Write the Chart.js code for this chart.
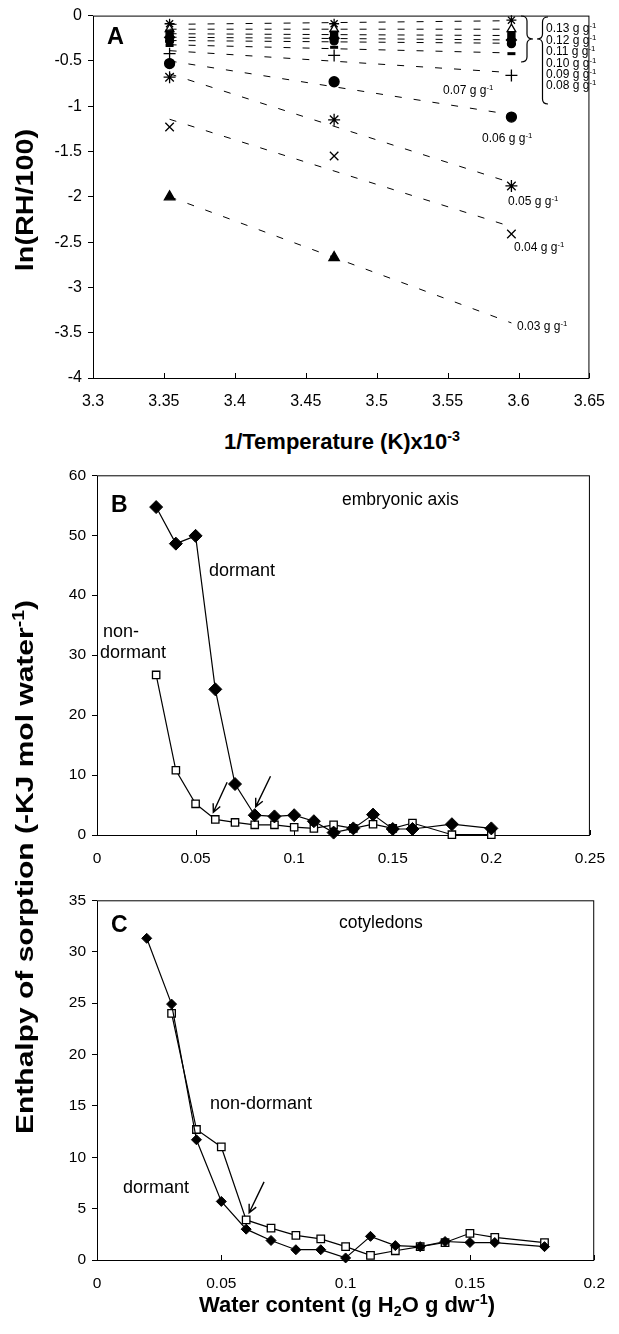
<!DOCTYPE html>
<html>
<head>
<meta charset="utf-8">
<title>Enthalpy of sorption</title>
<script src="https://cdn.jsdelivr.net/npm/chart.js@4.4.1/dist/chart.umd.min.js"></script>
<style>
  body { margin: 0; background: #fff; font-family: "Liberation Sans", Arial, sans-serif; }
  #page { position: relative; width: 619px; height: 1334px; overflow: hidden; }
  canvas { position: absolute; left: 0; }
  .t { position: absolute; white-space: nowrap; color: #000; line-height: 1; }
  .b { font-weight: bold; }
  sup { font-size: 0.65em; vertical-align: 0.55em; line-height: 0; }
  sub { font-size: 0.65em; vertical-align: -0.3em; line-height: 0; }
</style>
</head>
<body>
<div id="page">
  <canvas id="chartA" width="619" height="420" style="top:0"></canvas>
  <canvas id="chartB" width="619" height="420" style="top:460px"></canvas>
  <canvas id="chartC" width="619" height="420" style="top:885px"></canvas>
</div>
<script>
// ---- panel A : ln(RH/100) against 1/T, one series per water content ----
const invTemp = [3.354, 3.47, 3.595];
const waterA = ['0.03', '0.04', '0.05', '0.06', '0.07', '0.08', '0.09', '0.10', '0.11', '0.12', '0.13'];
const lnRH003 = [-2.00, -2.67, null];
const lnRH004 = [-1.23, -1.55, -2.41];
const lnRH005 = [-0.68, -1.15, -1.88];
const lnRH006 = [-0.53, -0.73, -1.12];
const lnRH007 = [-0.42, -0.44, -0.66];
const lnRH008 = [-0.33, -0.35, -0.42];
const lnRH009 = [-0.28, -0.28, -0.31];
const lnRH010 = [-0.24, -0.25, -0.27];
const lnRH011 = [-0.20, -0.21, -0.22];
const lnRH012 = [-0.15, -0.15, -0.15];
const lnRH013 = [-0.09, -0.09, -0.05];
const aXTicks = [3.3, 3.35, 3.4, 3.45, 3.5, 3.55, 3.6, 3.65];
const aYTicks = [0, -0.5, -1, -1.5, -2, -2.5, -3, -3.5, -4];

// ---- panel B : embryonic axis ----
const waterB = [0.03, 0.04, 0.05, 0.06, 0.07, 0.08, 0.09, 0.10, 0.11, 0.12, 0.13, 0.14, 0.15, 0.16, 0.18, 0.20];
const dormantB = [54.7, 48.6, 49.9, 24.3, 8.5, 3.3, 3.1, 3.3, 2.3, 0.4, 1.1, 3.4, 1.0, 1.0, 1.8, 1.1];
const nonDormantB = [26.7, 10.8, 5.2, 2.6, 2.1, 1.7, 1.7, 1.3, 1.1, 1.7, 1.1, 1.8, 1.1, 2.0, 0.05, 0.05];
const bXTicks = [0, 0.05, 0.1, 0.15, 0.2, 0.25];
const bYTicks = [0, 10, 20, 30, 40, 50, 60];

// ---- panel C : cotyledons ----
const waterCDormant = [0.02, 0.03, 0.04, 0.05, 0.06, 0.07, 0.08, 0.09, 0.10, 0.11, 0.12, 0.13, 0.14, 0.15, 0.16, 0.18];
const dormantC = [31.3, 24.9, 11.7, 5.7, 3.0, 1.9, 1.0, 1.0, 0.2, 2.3, 1.4, 1.3, 1.8, 1.7, 1.7, 1.3];
const waterCNonDormant = [0.03, 0.04, 0.05, 0.06, 0.07, 0.08, 0.09, 0.10, 0.11, 0.12, 0.13, 0.14, 0.15, 0.16, 0.18];
const nonDormantC = [24.0, 12.7, 11.0, 3.9, 3.1, 2.4, 2.05, 1.3, 0.45, 0.9, 1.3, 1.7, 2.6, 2.2, 1.7];
const cXTicks = [0, 0.05, 0.1, 0.15, 0.2];
const cYTicks = [0, 5, 10, 15, 20, 25, 30, 35];

Chart.defaults.font.family = '"Liberation Sans", Arial, sans-serif';
Chart.defaults.color = '#000';

const seriesA = [lnRH003, lnRH004, lnRH005, lnRH006, lnRH007, lnRH008, lnRH009, lnRH010, lnRH011, lnRH012, lnRH013];
const markA = [
  { style: 'triangle', r: 6, fill: true },
  { style: 'crossRot', r: 6 },
  { style: 'star', r: 6 },
  { style: 'circle', r: 5, fill: true },
  { style: 'cross', r: 6 },
  { style: 'line', r: 4, w: 3 },
  { style: 'circle', r: 4, fill: true },
  { style: 'rectRot', r: 5, fill: true },
  { style: 'rect', r: 5, fill: true },
  { style: 'triangle', r: 5, fill: false },
  { style: 'star', r: 5 }
];

// least squares line over the three temperatures
function fitLine(ys) {
  const pts = invTemp.map((x, i) => [x, ys[i]]).filter(p => p[1] !== null);
  const n = pts.length;
  const mx = pts.reduce((s, p) => s + p[0], 0) / n;
  const my = pts.reduce((s, p) => s + p[1], 0) / n;
  let sxy = 0, sxx = 0;
  pts.forEach(p => { sxy += (p[0] - mx) * (p[1] - my); sxx += (p[0] - mx) * (p[0] - mx); });
  const b = sxy / sxx;
  const x0 = invTemp[0], x1 = invTemp[invTemp.length - 1];
  return [{ x: x0, y: my + b * (x0 - mx) }, { x: x1, y: my + b * (x1 - mx) }];
}

const boxPlugin = {
  id: 'box',
  beforeDatasetsDraw(chart) {
    const { ctx, chartArea: a, scales } = chart;
    ctx.save();
    ctx.strokeStyle = '#000';
    ctx.lineWidth = 1;
    ctx.strokeRect(a.left + 0.5, a.top + 0.5, a.right - a.left - 1, a.bottom - a.top);
    ctx.beginPath();
    scales.x.ticks.forEach(t => {
      const px = Math.round(scales.x.getPixelForValue(t.value)) + 0.5;
      ctx.moveTo(px, a.bottom);
      ctx.lineTo(px, a.bottom - 5);
    });
    ctx.stroke();
    ctx.restore();
  }
};

// arrows and braces given per chart in options.plugins.marks
const marksPlugin = {
  id: 'marks',
  afterDatasetsDraw(chart, args, opts) {
    const { ctx, scales } = chart;
    ctx.save();
    ctx.strokeStyle = '#000';
    ctx.lineWidth = 1.4;
    (opts.arrows || []).forEach(ar => {
      const x0 = scales.x.getPixelForValue(ar.from[0]), y0 = scales.y.getPixelForValue(ar.from[1]);
      const x1 = scales.x.getPixelForValue(ar.to[0]), y1 = scales.y.getPixelForValue(ar.to[1]);
      const ang = Math.atan2(y1 - y0, x1 - x0);
      ctx.beginPath();
      ctx.moveTo(x0, y0);
      ctx.lineTo(x1, y1);
      ctx.moveTo(x1 - 9 * Math.cos(ang - 0.45), y1 - 9 * Math.sin(ang - 0.45));
      ctx.lineTo(x1, y1);
      ctx.lineTo(x1 - 9 * Math.cos(ang + 0.45), y1 - 9 * Math.sin(ang + 0.45));
      ctx.stroke();
    });
    ctx.lineWidth = 1.2;
    (opts.braces || []).forEach(br => {
      const d = br.dir, w = br.w, x = br.x, r = 5;
      ctx.beginPath();
      ctx.moveTo(x, br.y1);
      ctx.quadraticCurveTo(x + d * w / 2, br.y1, x + d * w / 2, br.y1 + r);
      ctx.lineTo(x + d * w / 2, br.ym - r);
      ctx.quadraticCurveTo(x + d * w / 2, br.ym, x + d * w, br.ym);
      ctx.quadraticCurveTo(x + d * w / 2, br.ym, x + d * w / 2, br.ym + r);
      ctx.lineTo(x + d * w / 2, br.y2 - r);
      ctx.quadraticCurveTo(x + d * w / 2, br.y2, x, br.y2);
      ctx.stroke();
    });
    ctx.restore();
  }
};

function axes(xTicks, yTicks, left, bottomH, fontSize) {
  const lo = Math.min(...yTicks), hi = Math.max(...yTicks);
  return {
    x: {
      type: 'linear', min: xTicks[0], max: xTicks[xTicks.length - 1],
      afterBuildTicks: s => { s.ticks = xTicks.map(v => ({ value: v })); },
      afterFit: s => { s.height = bottomH; },
      grid: { drawOnChartArea: false, drawTicks: false },
      border: { display: false },
      ticks: { padding: 14, font: { size: fontSize }, maxRotation: 0, autoSkip: false, callback: v => String(v) }
    },
    y: {
      type: 'linear', min: lo, max: hi,
      afterBuildTicks: s => { s.ticks = yTicks.map(v => ({ value: v })); },
      afterFit: s => { s.width = left; },
      grid: { drawOnChartArea: false, drawTicks: true, tickLength: 5, color: '#000' },
      border: { display: false },
      ticks: { padding: 6, font: { size: fontSize }, autoSkip: false, callback: v => String(v) }
    }
  };
}

const baseOpts = {
  responsive: false,
  animation: false,
  events: [],
  plugins: { legend: { display: false }, tooltip: { enabled: false } }
};

// panel A
const dsA = [];
seriesA.forEach((ys) => {
  dsA.push({
    data: fitLine(ys), showLine: true, borderColor: '#000', borderWidth: 1,
    borderDash: [7, 12], pointRadius: 0, clip: false
  });
});
seriesA.forEach((ys, k) => {
  const m = markA[k];
  dsA.push({
    label: waterA[k] + ' g g-1',
    data: invTemp.map((x, i) => ({ x: x, y: ys[i] })).filter(p => p.y !== null),
    showLine: false, pointStyle: m.style, pointRadius: m.r,
    pointBackgroundColor: m.fill === false ? '#fff' : '#000',
    pointBorderColor: '#000', pointBorderWidth: m.w || 1.3, clip: false
  });
});
new Chart(document.getElementById('chartA'), {
  type: 'scatter',
  data: { datasets: dsA },
  options: Object.assign({}, baseOpts, {
    layout: { padding: { left: 0, top: 15, right: 28, bottom: 0 } },
    scales: axes(aXTicks, aYTicks, 93, 42, 16),
    plugins: Object.assign({}, baseOpts.plugins, {
      marks: { braces: [
        { x: 521, y1: 16, ym: 39, y2: 62, w: 12, dir: 1 },
        { x: 548, y1: 17, ym: 39, y2: 104, w: 11, dir: -1 }
      ] }
    })
  }),
  plugins: [boxPlugin, marksPlugin]
});

function enthalpySets(xD, yD, xN, yN, rD, rN) {
  return [
    { label: 'dormant', data: xD.map((x, i) => ({ x: x, y: yD[i] })), showLine: true,
      borderColor: '#000', borderWidth: 1.2, pointStyle: 'rectRot', pointRadius: rD,
      pointBackgroundColor: '#000', pointBorderColor: '#000', pointBorderWidth: 1, clip: false },
    { label: 'non-dormant', data: xN.map((x, i) => ({ x: x, y: yN[i] })), showLine: true,
      borderColor: '#000', borderWidth: 1.2, pointStyle: 'rect', pointRadius: rN,
      pointBackgroundColor: '#fff', pointBorderColor: '#000', pointBorderWidth: 1.3, clip: false }
  ];
}

// panel B
new Chart(document.getElementById('chartB'), {
  type: 'scatter',
  data: { datasets: enthalpySets(waterB, dormantB, waterB, nonDormantB, 6.5, 5.2) },
  options: Object.assign({}, baseOpts, {
    layout: { padding: { left: 0, top: 15, right: 22, bottom: 0 } },
    scales: axes(bXTicks, bYTicks, 97, 45, 15.5),
    plugins: Object.assign({}, baseOpts.plugins, {
      marks: { arrows: [
        { from: [0.066, 8.8], to: [0.059, 3.8] },
        { from: [0.088, 9.8], to: [0.0805, 4.7] }
      ] }
    })
  }),
  plugins: [boxPlugin, marksPlugin]
});

// panel C
new Chart(document.getElementById('chartC'), {
  type: 'scatter',
  data: { datasets: enthalpySets(waterCDormant, dormantC, waterCNonDormant, nonDormantC, 5, 5.3) },
  options: Object.assign({}, baseOpts, {
    layout: { padding: { left: 0, top: 15, right: 22, bottom: 0 } },
    scales: axes(cXTicks, cYTicks, 97, 45, 15.5),
    plugins: Object.assign({}, baseOpts.plugins, {
      marks: { arrows: [
        { from: [0.0672, 7.6], to: [0.0612, 4.6] }
      ] }
    })
  }),
  plugins: [boxPlugin, marksPlugin]
});

// ---- text ----
const page = document.getElementById('page');
function addText(html, x, base, size, bold, center) {
  const d = document.createElement('div');
  d.className = 't' + (bold ? ' b' : '');
  d.innerHTML = html;
  d.style.fontSize = size + 'px';
  d.style.left = x + 'px';
  d.style.top = (base - 0.8465 * size) + 'px';
  if (center) d.style.transform = 'translateX(-50%)';
  page.appendChild(d);
}
function addVTitle(html, cx, cy, size, stretch) {
  const d = document.createElement('div');
  d.className = 't b';
  d.innerHTML = html;
  d.style.fontSize = size + 'px';
  d.style.left = cx + 'px';
  d.style.top = cy + 'px';
  d.style.transform = 'translate(-50%,-50%) rotate(-90deg) scaleX(' + stretch + ')';
  page.appendChild(d);
}

const gg = ' g g<sup>-1</sup>';
addText('A', 107, 45, 23.5, true);
addText('0.07' + gg, 443, 94, 12);
addText('0.06' + gg, 482, 142, 12);
addText('0.05' + gg, 508, 205, 12);
addText('0.04' + gg, 514, 251, 12);
addText('0.03' + gg, 517, 330, 12);
['0.13', '0.12', '0.11', '0.10', '0.09', '0.08'].forEach((w, i) => addText(w + gg, 546, 32.5 + 11.4 * i, 12));
addVTitle('ln(RH/100)', 25, 200, 24, 1.2);
addText('1/Temperature (K)x10<sup>-3</sup>', 342, 450, 22, true, true);

addText('B', 111, 512, 23, true);
addText('embryonic axis', 342, 506, 17.5);
addText('dormant', 209, 576, 18);
addText('non-', 103, 637, 18);
addText('dormant', 100, 658, 18);

addText('C', 111, 932, 23, true);
addText('cotyledons', 339, 929, 17.5);
addText('non-dormant', 210, 1109, 18);
addText('dormant', 123, 1193, 18);

addVTitle('Enthalpy of sorption (-KJ mol water<sup>-1</sup>)', 25, 867, 24, 1.25);
addText('Water content (g H<sub>2</sub>O g dw<sup>-1</sup>)', 347, 1313, 22, true, true);
</script>
</body>
</html>
